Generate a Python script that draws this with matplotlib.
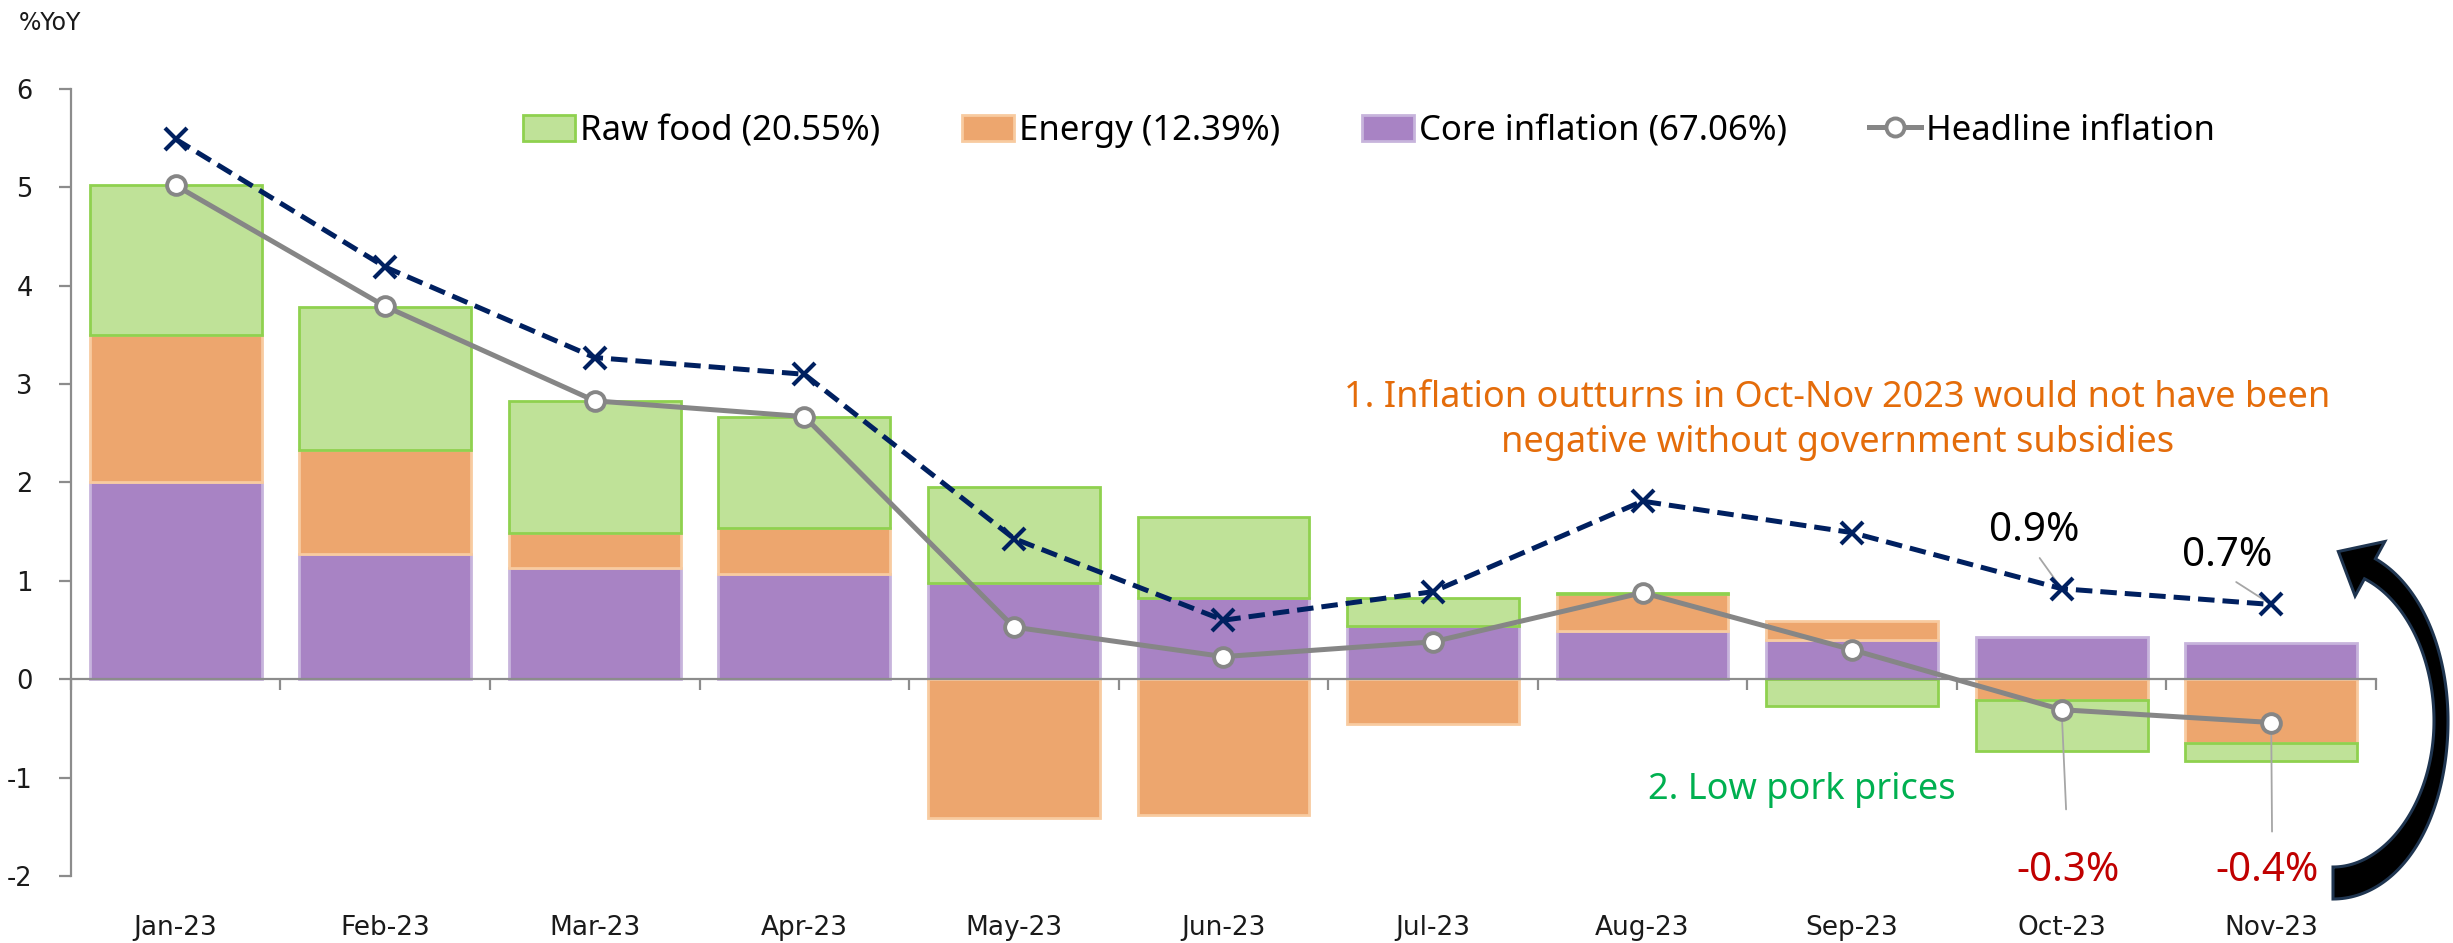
import numpy as np
import matplotlib
matplotlib.use("Agg")
import matplotlib.pyplot as plt
from matplotlib.patches import Patch, Polygon
from matplotlib.lines import Line2D

months = ['Jan-23', 'Feb-23', 'Mar-23', 'Apr-23', 'May-23', 'Jun-23',
          'Jul-23', 'Aug-23', 'Sep-23', 'Oct-23', 'Nov-23']
core = [2.00, 1.27, 1.13, 1.07, 0.98, 0.83, 0.54, 0.49, 0.40, 0.43, 0.37]
energy = [1.50, 1.06, 0.36, 0.47, -1.41, -1.38, -0.46, 0.38, 0.19, -0.21, -0.65]
raw_food = [1.52, 1.45, 1.34, 1.13, 0.97, 0.82, 0.29, 0.01, -0.27, -0.52, -0.18]
headline = [5.02, 3.79, 2.83, 2.67, 0.53, 0.23, 0.38, 0.88, 0.30, -0.31, -0.44]
ex_subsidy = [5.49, 4.19, 3.27, 3.10, 1.43, 0.60, 0.89, 1.81, 1.49, 0.92, 0.76]

legend_labels = ['Raw food (20.55%)', 'Energy (12.39%)', 'Core inflation (67.06%)', 'Headline inflation']
yticks = [-2, -1, 0, 1, 2, 3, 4, 5, 6]

C_RAW, E_RAW = '#BFE298', '#8FD14F'
C_EN, E_EN = '#EDA66E', '#F8CBA0'
C_CORE, E_CORE = '#A883C4', '#C7B4DC'
AXC = '#8C8C8C'
TXT_FONT = ['Noto Sans', 'DejaVu Sans']

FW, FH = 2453, 943
fig = plt.figure(figsize=(FW / 100, FH / 100), dpi=100)
ax = fig.add_axes([0.0289, 0.0711, 0.9397, 0.8345])

x = np.arange(len(months))
W = 0.82
pos_bottom = np.zeros(len(months))
neg_bottom = np.zeros(len(months))
for vals, fc, ec in [(core, C_CORE, E_CORE), (energy, C_EN, E_EN), (raw_food, C_RAW, E_RAW)]:
    v = np.array(vals)
    bottoms = np.where(v >= 0, pos_bottom, neg_bottom)
    ax.bar(x, v, W, bottom=bottoms, color=fc, edgecolor=ec, linewidth=2, zorder=1)
    pos_bottom = pos_bottom + np.where(v >= 0, v, 0)
    neg_bottom = neg_bottom + np.where(v < 0, v, 0)

ax.plot(x, ex_subsidy, color='#002060', lw=3.6, ls=(0, (3.3, 1.6)), marker='x',
        markersize=16, mew=3, zorder=4)
ax.plot(x, headline, color='#868686', lw=3.6, marker='o', markersize=13.5,
        markerfacecolor='white', markeredgecolor='#868686', mew=2.8, zorder=5)

ax.set_xlim(-0.5, 10.5)
ax.set_ylim(-2, 6)
ax.set_yticks(yticks)
ax.set_yticklabels([str(t) for t in yticks])
ax.spines['top'].set_visible(False)
ax.spines['right'].set_visible(False)
ax.spines['bottom'].set_position(('data', 0))
for s in ['left', 'bottom']:
    ax.spines[s].set_color(AXC)
    ax.spines[s].set_linewidth(1.6)
    ax.spines[s].set_zorder(3)
ax.set_xticks(np.arange(-0.5, 11, 1))
ax.set_xticklabels([])
ax.tick_params(axis='x', direction='out', length=8, width=1.6, color=AXC)
ax.tick_params(axis='y', direction='out', length=8.5, width=1.6, color=AXC,
               pad=19, labelsize=18.5, labelcolor='#1a1a1a')

sec = ax.secondary_xaxis(0.0)
sec.set_xticks(x)
sec.set_xticklabels(months)
sec.tick_params(length=0, pad=28, labelsize=19, labelcolor='#1a1a1a')
sec.spines['bottom'].set_visible(False)

fig.text(19 / FW, 1 - 23 / FH, '%YoY', fontsize=17, va='center', ha='left', color='#1a1a1a')

handles = [Patch(facecolor=C_RAW, edgecolor=E_RAW, lw=2),
           Patch(facecolor=C_EN, edgecolor=E_EN, lw=2),
           Patch(facecolor=C_CORE, edgecolor=E_CORE, lw=2),
           Line2D([], [], color='#868686', lw=3.6, marker='o', markersize=13,
                  markerfacecolor='white', markeredgecolor='#868686', mew=2.8)]
fig.legend(handles, legend_labels, loc='center', bbox_to_anchor=(0.558, 0.861), ncol=4,
           frameon=False, prop={'family': TXT_FONT, 'size': 25},
           handlelength=1.5, handleheight=0.8, handletextpad=0.15, columnspacing=2.35)

ax.text(7.93, 2.63, '1. Inflation outturns in Oct-Nov 2023 would not have been\nnegative without government subsidies',
        ha='center', va='center', color='#E46C0A', fontsize=26, family=TXT_FONT, linespacing=1.35)
ax.text(7.76, -1.13, '2. Low pork prices', ha='center', va='center', color='#00B050',
        fontsize=26, family=TXT_FONT)

lead = dict(arrowstyle='-', color='#A6A6A6', lw=1.3, shrinkB=0)
ax.annotate('0.9%', xy=(9, ex_subsidy[9]), xytext=(8.87, 1.51), ha='center', va='center',
            fontsize=29, family=TXT_FONT, color='black',
            arrowprops=dict(lead, relpos=(0.5, 0.0), shrinkA=4))
ax.annotate('0.7%', xy=(10, ex_subsidy[10]), xytext=(9.79, 1.25), ha='center', va='center',
            fontsize=29, family=TXT_FONT, color='black',
            arrowprops=dict(lead, relpos=(0.5, 0.0), shrinkA=4))
ax.annotate('-0.3%', xy=(9, headline[9]), xytext=(9.03, -1.95), ha='center', va='center',
            fontsize=29, family=TXT_FONT, color='#C00000',
            arrowprops=dict(lead, relpos=(0.5, 1.0), shrinkA=28))
ax.annotate('-0.4%', xy=(10, headline[10]), xytext=(9.98, -1.95), ha='center', va='center',
            fontsize=29, family=TXT_FONT, color='#C00000',
            arrowprops=dict(lead, relpos=(0.55, 1.0), shrinkA=12))

# curved arrow (decoration) built in pixel space, y up
cx, cy, a, b = 2333.0, 222.0, 108.0, 162.0
th = np.linspace(-np.pi / 2, np.deg2rad(70), 120)
wid = np.where(th < 0, 14 + 18 * np.sin(th) ** 2, 14 + 10 * np.sin(th) ** 2)
px = cx + a * np.cos(th)
py = cy + b * np.sin(th)
nx, ny = b * np.cos(th), a * np.sin(th)
nn = np.hypot(nx, ny)
nx, ny = nx / nn, ny / nn
outer = np.column_stack([px + nx * wid / 2, py + ny * wid / 2])
inner = np.column_stack([px - nx * wid / 2, py - ny * wid / 2])
te = th[-1]
tx, ty = -a * np.sin(te), b * np.cos(te)
tn = np.hypot(tx, ty)
tx, ty = tx / tn, ty / tn
bx, by = px[-1], py[-1]
hw, hl = 31.0, 36.0
head = np.array([[bx + nx[-1] * hw, by + ny[-1] * hw],
                 [bx + tx * hl, by + ty * hl],
                 [bx - nx[-1] * hw, by - ny[-1] * hw]])
poly = np.vstack([outer, head, inner[::-1]])
poly[:, 0] /= FW
poly[:, 1] /= FH
fig.patches.append(Polygon(poly, closed=True, transform=fig.transFigure,
                           facecolor='black', edgecolor='#1F3550', lw=2.2,
                           joinstyle='miter', zorder=6))

fig.savefig('out.png', dpi=100)
